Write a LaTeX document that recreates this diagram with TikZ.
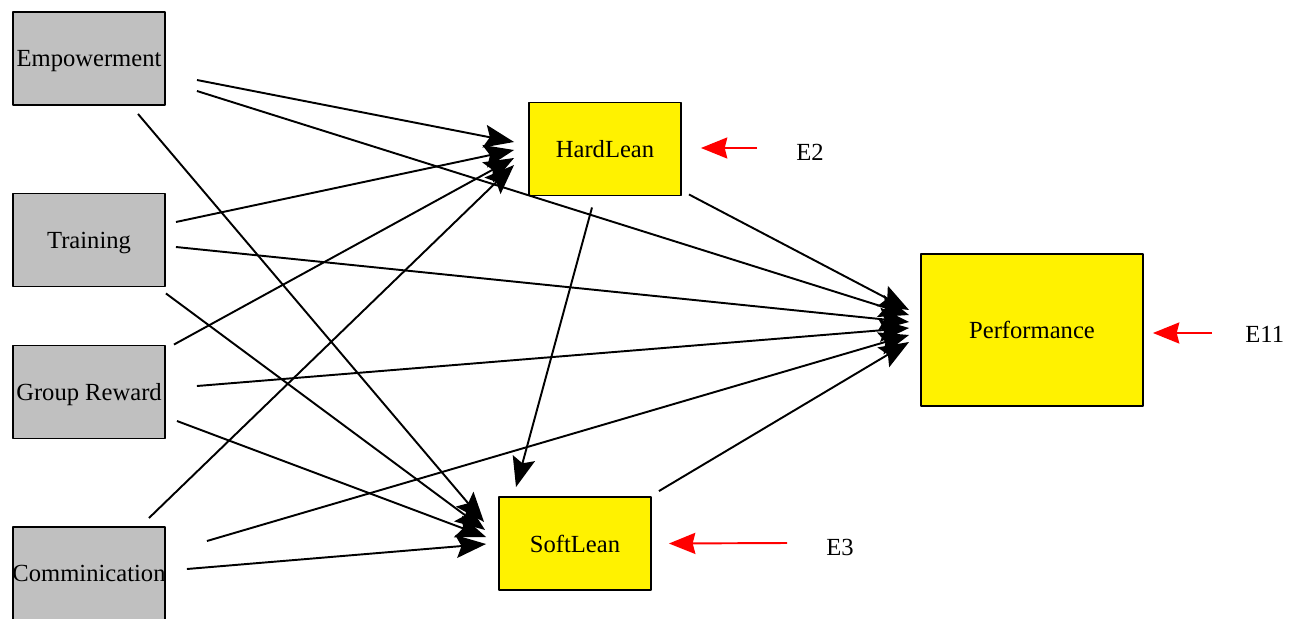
\documentclass[tikz,border=0pt]{standalone}
\usepackage{fontspec}
\setmainfont{Liberation Serif}
\usetikzlibrary{arrows.meta}
\definecolor{boxgrey}{RGB}{192,192,192}
\begin{document}
\begin{tikzpicture}[x=0.02cm, y=-0.02cm, font=\fontsize{14}{16}\selectfont, line join=round,
    >={Stealth[length=17pt,width=13pt,inset=3pt]},
    var/.style={draw, line width=1.1pt, fill=boxgrey, minimum width=3.04cm, minimum height=1.86cm, inner sep=0pt, text depth=0pt},
    lean/.style={draw, line width=1.1pt, fill=yellow, minimum width=3.04cm, minimum height=1.86cm, inner sep=0pt, text depth=0pt},
    link/.style={->, line width=1.1pt},
    errlink/.style={red, line width=1.1pt, -{Stealth[length=15pt,width=12pt,inset=1.5pt]}},
    errlabel/.style={inner sep=0pt}]
    \useasboundingbox (0,0) rectangle (1300,618);
    % observed variables
    \node[var] (emp) at (89,58.5) {Empowerment};
    \node[var] (train) at (89,240) {Training};
    \node[var] (group) at (89,392) {Group Reward};
    \node[var] (comm) at (89,573.5) {\makebox[0pt]{Comminication}};
    % latent variables
    \node[lean] (hard) at (605,149) {HardLean};
    \node[lean] (soft) at (575,543.5) {SoftLean};
    \node[lean, minimum width=4.44cm, minimum height=3.04cm] (perf) at (1032,330) {Performance};
    % error terms
    \node[errlabel, anchor=west] (e2) at (796,152) {E2};
    \node[errlabel, anchor=west] (e3) at (826,547) {E3};
    \node[errlabel, anchor=west] (e11) at (1245,334) {E11};
    \draw[errlink] ([shift={(-39,-4)}]e2.west) -- ([shift={(19,-1)}]hard.east);
    \draw[errlink] ([shift={(-39,-4)}]e3.west) -- ([shift={(17,0)}]soft.east);
    \draw[errlink] ([shift={(-33,-1)}]e11.west) -- ([shift={(9,3)}]perf.east);
    % into HardLean
    \draw[link] ([shift={(31,21.5)}]emp.east) -- ([shift={(-14,-7)}]hard.west);
    \draw[link] ([shift={(10,-18)}]train.east) -- ([shift={(-14,1)}]hard.west);
    \draw[link] ([shift={(8,0)}]group.north east) -- ([shift={(-14,9)}]hard.west);
    \draw[link] ([shift={(-17,-8)}]comm.north east) -- ([shift={(-14,16)}]hard.west);
    % into Performance
    \draw[link] ([shift={(31,32.5)}]emp.east) -- ([shift={(-11,-15)}]perf.west);
    \draw[link] ([shift={(10,7)}]train.east) -- ([shift={(-11,-8)}]perf.west);
    \draw[link] ([shift={(31,-6)}]group.east) -- ([shift={(-11,-2)}]perf.west);
    \draw[link] ([shift={(41,-32.5)}]comm.east) -- ([shift={(-11,5)}]perf.west);
    \draw[link] ([shift={(7,-2)}]hard.south east) -- ([shift={(-11,-20)}]perf.west);
    \draw[link] ([shift={(7,-5)}]soft.north east) -- ([shift={(-11,12)}]perf.west);
    % into SoftLean
    \draw[link] ([shift={(49,8)}]emp.south) -- ([shift={(-14,-21.5)}]soft.west);
    \draw[link] ([shift={(0,6)}]train.south east) -- ([shift={(-13,-13.5)}]soft.west);
    \draw[link] ([shift={(11,29)}]group.east) -- ([shift={(-12,-6.5)}]soft.west);
    \draw[link] ([shift={(21,-4.5)}]comm.east) -- ([shift={(-12,0.5)}]soft.west);
    \draw[link] ([shift={(-13,11)}]hard.south) -- ([shift={(-59,-9)}]soft.north);
\end{tikzpicture}
\end{document}
